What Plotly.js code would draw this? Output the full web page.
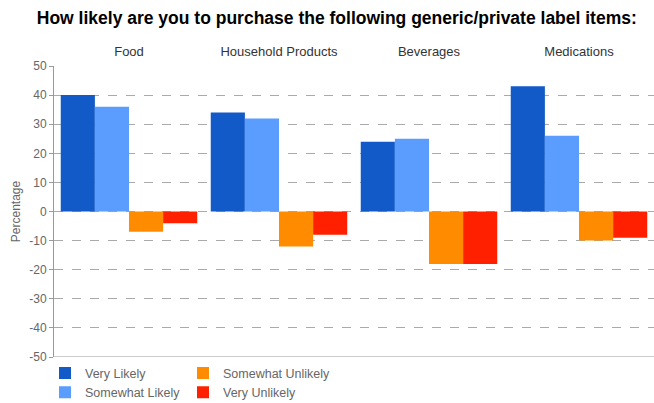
<!DOCTYPE html>
<html>
<head>
<meta charset="utf-8">
<script src="https://cdn.plot.ly/plotly-3.0.1.min.js"></script>
<style>html,body{margin:0;padding:0;background:#fff;}#chart{width:654px;height:403px;}</style>
</head>
<body>
<div id="chart"></div>
<script>
const categories = ["Food", "Household Products", "Beverages", "Medications"];
const seriesNames = ["Very Likely", "Somewhat Likely", "Somewhat Unlikely", "Very Unlikely"];
const veryLikely = [40, 34, 24, 43];
const somewhatLikely = [36, 32, 25, 26];
const somewhatUnlikely = [-7, -12, -18, -10];
const veryUnlikely = [-4, -8, -18, -9];
const yTicks = [-50, -40, -30, -20, -10, 0, 10, 20, 30, 40, 50];

const colors = ["#115ac7", "#5b9cff", "#ff8c00", "#ff2000"];
const values = [veryLikely, somewhatLikely, somewhatUnlikely, veryUnlikely];
const legends = ["legend", "legend", "legend2", "legend2"];

const traces = values.map((v, i) => ({
  type: "bar",
  name: seriesNames[i],
  x: categories,
  y: v,
  marker: {color: colors[i], line: {width: 0}},
  legend: legends[i],
  hoverinfo: "none"
}));

const legendFont = {family: "Liberation Sans, Arial, sans-serif", size: 12.5, color: "#666"};
const layout = {
  width: 654, height: 403,
  margin: {l: 54, r: 0, t: 66, b: 46, autoexpand: false},
  paper_bgcolor: "#fff", plot_bgcolor: "#fff",
  barmode: "group",
  bargap: 0.09,
  bargroupgap: 0,
  title: {
    text: "<b>How likely are you to purchase the following generic/private label items:</b>",
    font: {family: "Liberation Sans, Arial, sans-serif", size: 17.5, color: "#000"},
    x: 0.515, xanchor: "center", y: 1 - 18/403, yanchor: "middle", yref: "container"
  },
  xaxis: {
    side: "top",
    type: "category",
    showgrid: false, showline: false, zeroline: false,
    ticks: "",
    tickfont: {family: "Liberation Sans, Arial, sans-serif", size: 13, color: "#333"},
    ticklabelstandoff: 6
  },
  yaxis: {
    range: [-50, 50],
    tickvals: yTicks,
    ticktext: yTicks.map(String),
    showgrid: true, gridcolor: "#aaa", griddash: "dash", gridwidth: 1,
    zeroline: false,
    showline: true, linecolor: "#999", linewidth: 1,
    ticks: "outside", ticklen: 4, tickcolor: "#999",
    tickfont: {family: "Liberation Sans, Arial, sans-serif", size: 12, color: "#666"},
    title: {text: "Percentage", font: {family: "Liberation Sans, Arial, sans-serif", size: 12, color: "#666"}, standoff: 6}
  },
  shapes: [{
    type: "line", xref: "paper", yref: "y", x0: 0, x1: 1, y0: -50, y1: -50,
    line: {color: "#999", width: 1}
  }],
  showlegend: true,
  legend: {
    x: -0.015, xanchor: "left", y: -0.005, yanchor: "top",
    orientation: "v", font: legendFont, bgcolor: "rgba(0,0,0,0)",
    tracegroupgap: 0, itemclick: false
  },
  legend2: {
    x: 0.215, xanchor: "left", y: -0.005, yanchor: "top",
    orientation: "v", font: legendFont, bgcolor: "rgba(0,0,0,0)",
    tracegroupgap: 0, itemclick: false
  }
};

Plotly.newPlot("chart", traces, layout, {displayModeBar: false, staticPlot: true});
</script>
</body>
</html>
